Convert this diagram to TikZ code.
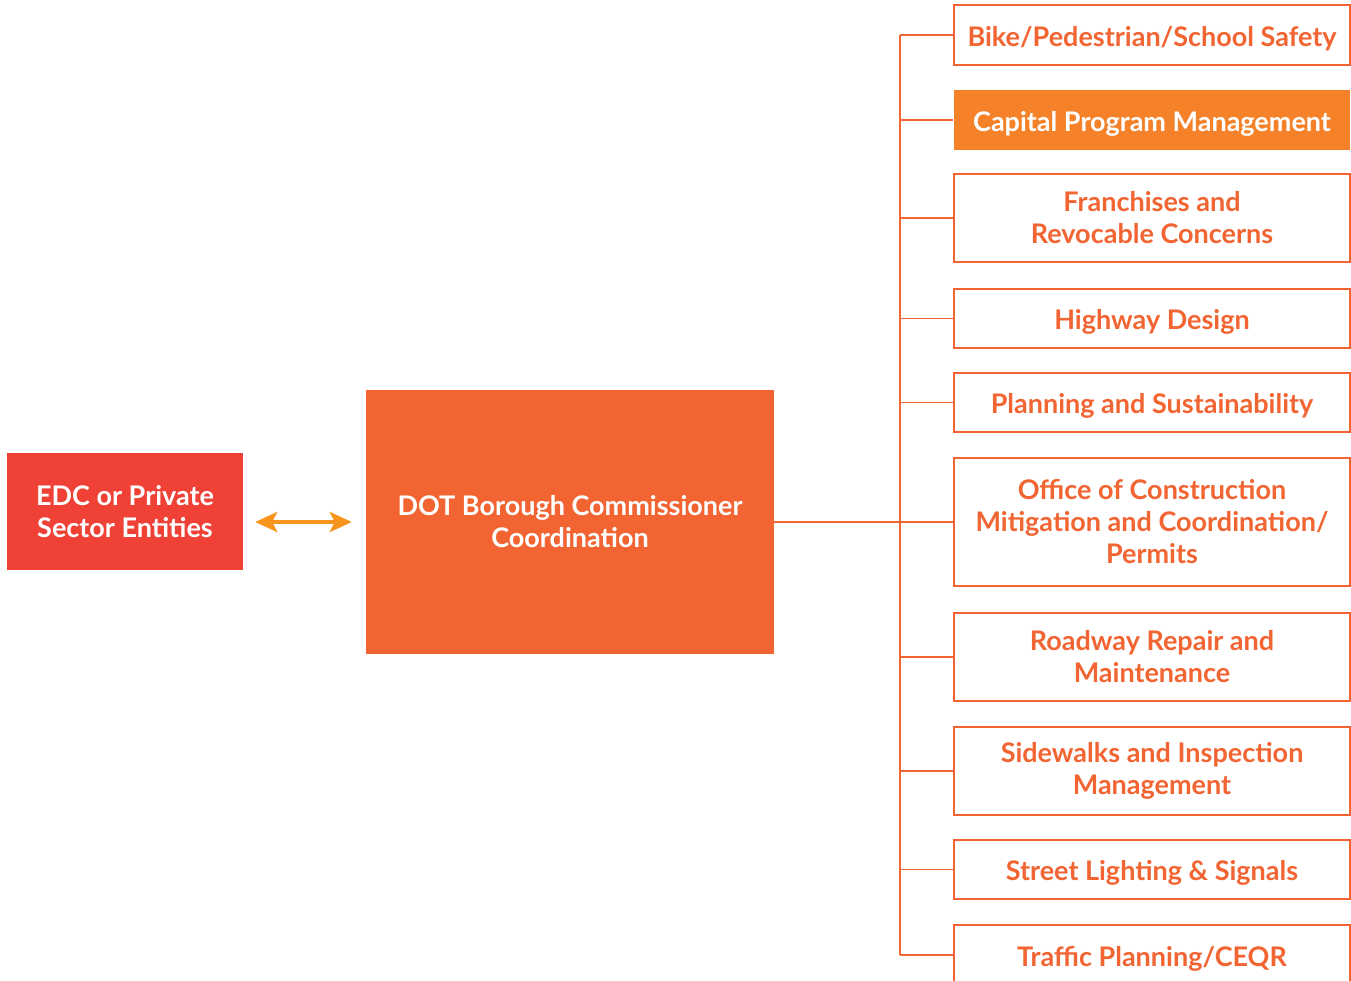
\documentclass[tikz,border=0pt]{standalone}
\usepackage{fontspec}
\setmainfont{Lato}
\usepackage{tikz}
\usetikzlibrary{calc,arrows.meta}
\definecolor{dot-orange}{HTML}{F26532}
\definecolor{edc-red}{HTML}{EF4136}
\definecolor{cap-orange}{HTML}{F58229}
\definecolor{arr-orange}{HTML}{F7941D}

\tikzset{
    unitbox/.style={draw=dot-orange, line width=1.8pt, fill=white, text=dot-orange,
        minimum width=396pt, inner sep=0pt, align=center,
        font=\fontsize{27}{32}\selectfont\bfseries,
        execute at begin node={\rule{0pt}{27pt}}},
    filledbox/.style={inner sep=0pt, align=center, text=white,
        font=\fontsize{27}{32}\selectfont\bfseries,
        execute at begin node={\rule{0pt}{27pt}}}
}

\begin{document}
\begin{tikzpicture}[x=1pt, y=-1pt]
    \useasboundingbox (0,0) rectangle (1351,980);
    \clip (0,0) rectangle (1351,980);
    % left side
    \node[filledbox, fill=edc-red, minimum width=236pt, minimum height=117pt] (edc) at (125,511.5) {EDC or Private\\Sector Entities};
    \node[filledbox, fill=dot-orange, minimum width=408pt, minimum height=264pt] (dot) at (570,522) {DOT Borough Commissioner\\Coordination};
    \draw[arr-orange, line width=4pt, shorten <=12pt, shorten >=14pt,
        {Stealth[length=22pt,width=20pt,inset=5pt]}-{Stealth[length=22pt,width=20pt,inset=5pt]}]
        (edc.east |- dot.west) -- (dot.west);
    % units
    \node[unitbox, minimum height=60pt] (bike) at (1152,35) {Bike/Pedestrian/School Safety};
    \node[unitbox, draw=none, fill=cap-orange, text=white, minimum height=60pt] (capital) at (1152,120) {Capital Program Management};
    \node[unitbox, minimum height=88pt] (franchise) at (1152,218) {Franchises and\\Revocable Concerns};
    \node[unitbox, minimum height=59pt] (highway) at (1152,318.5) {Highway Design};
    \node[unitbox, minimum height=59pt] (planning) at (1152,402.5) {Planning and Sustainability};
    \node[unitbox, minimum height=128pt] (office) at (1152,522) {Office of Construction\\Mitigation and Coordination/\\Permits};
    \node[unitbox, minimum height=88pt] (roadway) at (1152,657) {Roadway Repair and\\Maintenance};
    \node[unitbox, minimum height=88pt] (sidewalk) at (1152,771) {Sidewalks and Inspection\\Management};
    \node[unitbox, minimum height=59pt] (lighting) at (1152,869.5) {Street Lighting \& Signals};
    \node[unitbox, minimum height=60pt] (traffic) at (1152,955) {Traffic Planning/CEQR};
    % tree lines
    \coordinate (trunk) at (900,522);
    \draw[dot-orange, line width=1.3pt] (dot.east) -- (office.west);
    \draw[dot-orange, line width=1.3pt] (bike.west -| trunk) -- (traffic.west -| trunk);
    \foreach \unit in {bike,capital,franchise,highway,planning,roadway,sidewalk,lighting,traffic}
        \draw[dot-orange, line width=1.3pt] (\unit.west -| trunk) -- (\unit.west);
\end{tikzpicture}
\end{document}
